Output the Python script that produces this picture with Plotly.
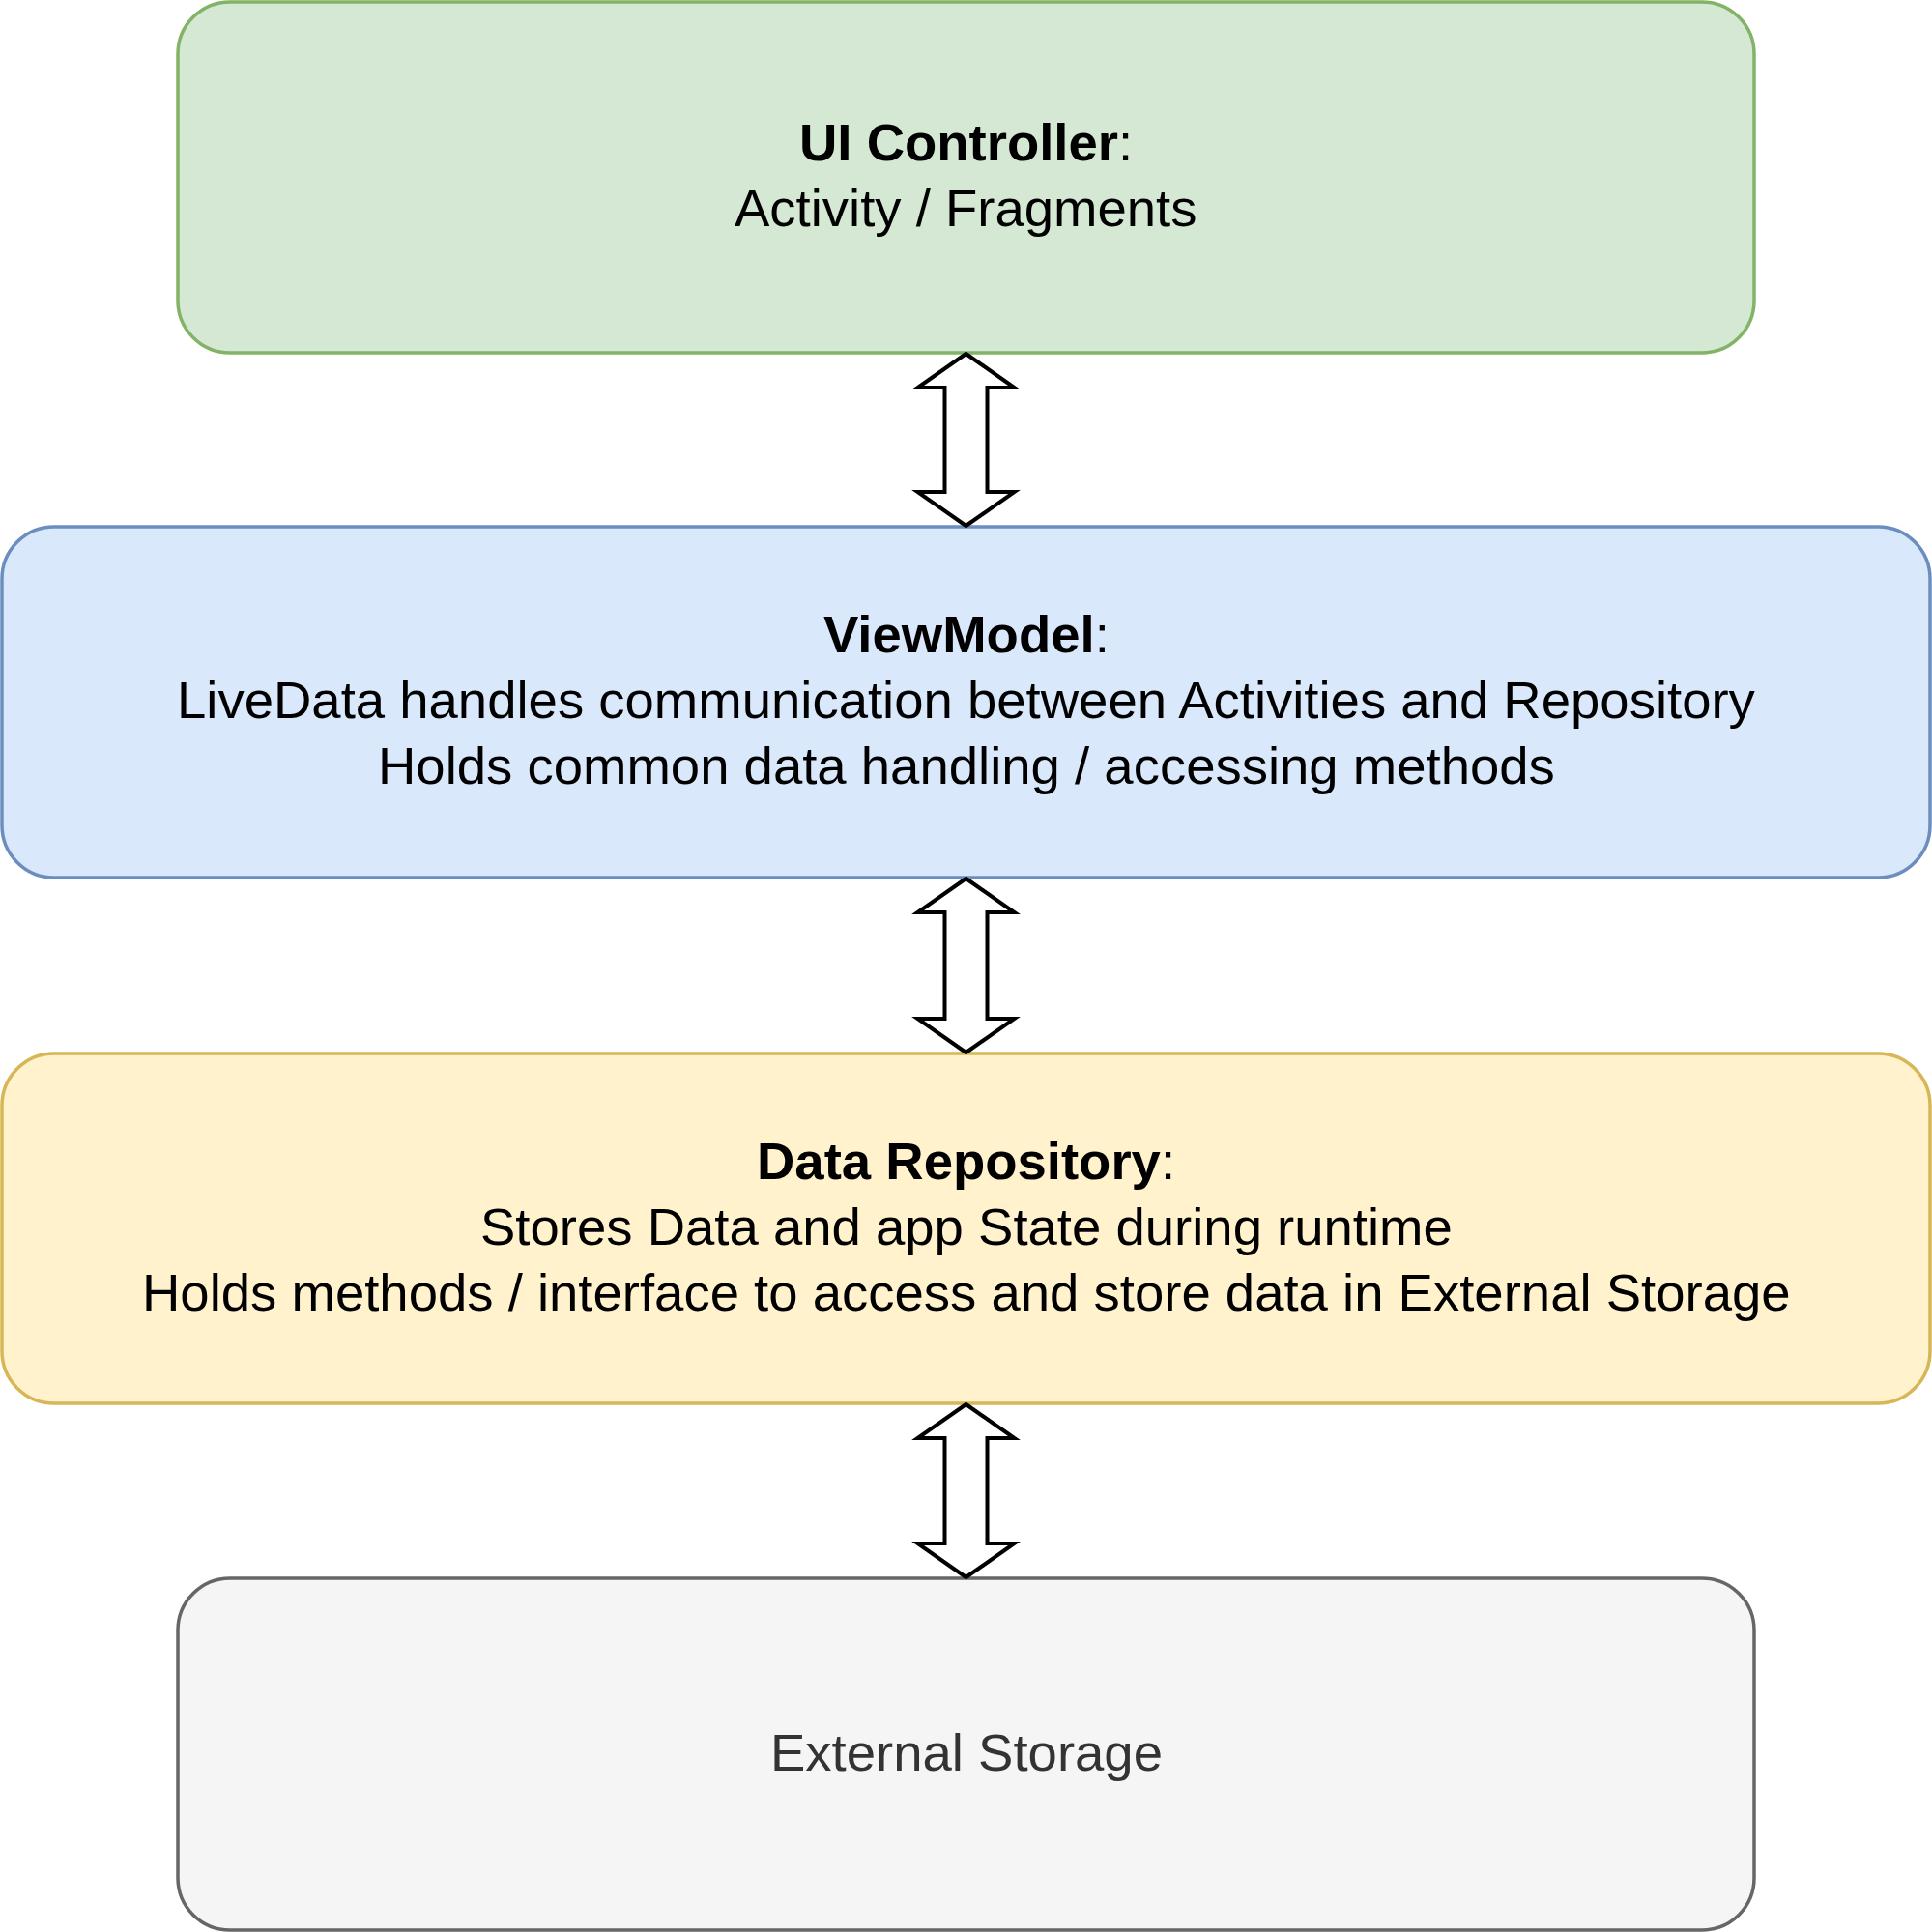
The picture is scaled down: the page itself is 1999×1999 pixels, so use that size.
import plotly.graph_objects as go

# diagram content
layer_titles = ["UI Controller", "ViewModel", "Data Repository", ""]
layer_lines = [
    ["Activity / Fragments"],
    ["LiveData handles communication between Activities and Repository",
     "Holds common data handling / accessing methods"],
    ["Stores Data and app State during runtime",
     "Holds methods / interface to access and store data in External Storage"],
    ["External Storage"],
]
layer_fill = ["#d5e8d4", "#dae8fc", "#fff2cc", "#f5f5f5"]
layer_stroke = ["#82b366", "#6c8ebf", "#d6b656", "#666666"]
layer_font = ["#000000", "#000000", "#000000", "#333333"]

# layout of the boxes (pixels, y down)
box_left = [184, 2, 2, 184]
box_right = [1815, 1997, 1997, 1815]
box_top = [2, 545, 1090, 1633]
box_bottom = [365, 908, 1452, 1997]
RADIUS = 54
LINE_STEP = 68
FONT = "Liberation Sans, Arial, Helvetica, sans-serif"


def rounded_rect(x0, y0, x1, y1, r):
    k = r * 0.4477  # 1 - kappa
    return (f"M {x0 + r},{y0} L {x1 - r},{y0} "
            f"C {x1 - k},{y0} {x1},{y0 + k} {x1},{y0 + r} "
            f"L {x1},{y1 - r} "
            f"C {x1},{y1 - k} {x1 - k},{y1} {x1 - r},{y1} "
            f"L {x0 + r},{y1} "
            f"C {x0 + k},{y1} {x0},{y1 - k} {x0},{y1 - r} "
            f"L {x0},{y0 + r} "
            f"C {x0},{y0 + k} {x0 + k},{y0} {x0 + r},{y0} Z")


def double_arrow(cx, y0, y1, head=35, half_head=50, half_shaft=22):
    return (f"M {cx},{y0} L {cx + half_head},{y0 + head} L {cx + half_shaft},{y0 + head} "
            f"L {cx + half_shaft},{y1 - head} L {cx + half_head},{y1 - head} L {cx},{y1} "
            f"L {cx - half_head},{y1 - head} L {cx - half_shaft},{y1 - head} "
            f"L {cx - half_shaft},{y0 + head} L {cx - half_head},{y0 + head} Z")


fig = go.Figure()

for i in range(len(layer_titles)):
    x0, x1, y0, y1 = box_left[i], box_right[i], box_top[i], box_bottom[i]
    fig.add_shape(type="path", path=rounded_rect(x0, y0, x1, y1, RADIUS),
                  fillcolor=layer_fill[i], line=dict(color=layer_stroke[i], width=3.5),
                  layer="below")
    lines = list(layer_lines[i])
    if layer_titles[i]:
        lines = [f"<b>{layer_titles[i]}</b>:"] + lines
    mid = (y0 + y1) / 2 - 2
    for j, line in enumerate(lines):
        fig.add_annotation(x=(x0 + x1) / 2, y=mid + (j - (len(lines) - 1) / 2) * LINE_STEP,
                           text=line, showarrow=False, xanchor="center", yanchor="middle",
                           font=dict(family=FONT, size=54.5, color=layer_font[i]))

# arrows between neighbouring boxes
for i in range(len(layer_titles) - 1):
    fig.add_shape(type="path", path=double_arrow(999.5, box_bottom[i] + 1, box_top[i + 1] - 1),
                  fillcolor="#ffffff", line=dict(color="#000000", width=4))

fig.update_xaxes(range=[0, 1999], visible=False, showgrid=False)
fig.update_yaxes(range=[1999, 0], visible=False, showgrid=False)
fig.update_layout(width=1999, height=1999, margin=dict(l=0, r=0, t=0, b=0),
                  plot_bgcolor="#ffffff", paper_bgcolor="#ffffff", showlegend=False)

fig.write_html("out.html", config={"displayModeBar": False},
               post_script="document.body.style.margin='0';")
